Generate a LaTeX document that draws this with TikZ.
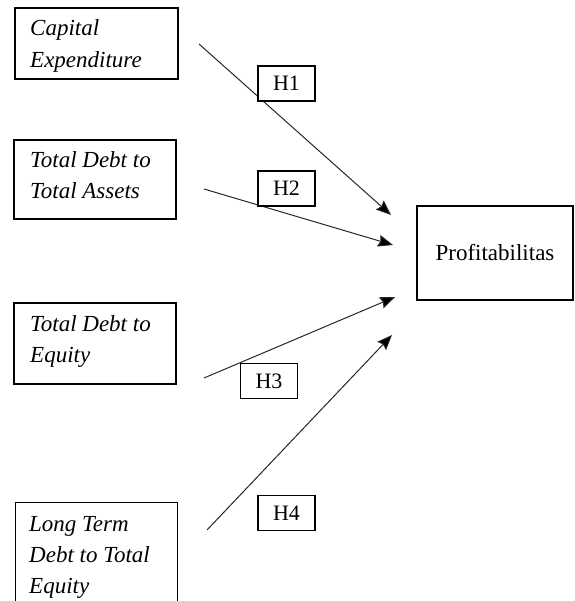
\documentclass[tikz,border=0pt]{standalone}
\usepackage{fontspec}
\setmainfont{Liberation Serif}
\usetikzlibrary{arrows.meta}
\begin{document}
\begin{tikzpicture}[x=1pt,y=-1pt,
  box/.style={draw=black, line width=1.1pt, rectangle, fill=white, inner sep=0pt},
  vartext/.style={anchor=base west, inner sep=0pt, font=\fontsize{23}{31}\selectfont\itshape},
  depbox/.style={box, minimum width=156pt, minimum height=94pt,
    font=\fontsize{23}{27}\selectfont},
  hbox/.style={box, minimum width=57pt, minimum height=35pt,
    font=\fontsize{22}{26}\selectfont},
  conn/.style={draw=black!85, line width=1pt, -{Stealth[length=15pt,width=12pt,inset=2pt,fill=black]}}]
\useasboundingbox (0,0) rectangle (574,601);

% independent-variable boxes
\node[box, minimum width=163pt, minimum height=71pt] (cap) at (96.5,43.5) {};
\node[box, minimum width=162pt, minimum height=79pt] (tdta) at (95,179.5) {};
\node[box, minimum width=162pt, minimum height=81pt] (tde) at (95,343.5) {};
\node[box, anchor=north west, minimum width=162pt, minimum height=112pt] (ltde) at (15,502) {};

\node[vartext, font=\fontsize{23}{32}\selectfont\itshape] (capt) at (30,36)
  {\begin{tabular}[t]{@{}l@{}}Capital\\Expenditure\end{tabular}};
\node[vartext] (tdtat) at (30,168)
  {\begin{tabular}[t]{@{}l@{}}Total Debt to\\Total Assets\end{tabular}};
\node[vartext] (tdet) at (30,331)
  {\begin{tabular}[t]{@{}l@{}}Total Debt to\\Equity\end{tabular}};
\node[vartext] (ltdet) at (29,531)
  {\begin{tabular}[t]{@{}l@{}}Long Term\\Debt to Total\\Equity\end{tabular}};

\node[depbox] (prof) at (495,253) {Profitabilitas};

\coordinate (s1) at (199,44);
\coordinate (e1) at (391,215);
\coordinate (s2) at (204,189);
\coordinate (e2) at (393,245);
\coordinate (s3) at (204,378);
\coordinate (e3) at (395,297);
\coordinate (s4) at (207,530);
\coordinate (e4) at (392,335);

\draw[conn] (s1) -- (e1);
\draw[conn] (s2) -- (e2);
\draw[conn] (s3) -- (e3);
\draw[conn] (s4) -- (e4);

\node[hbox] (h1) at (286.5,83.5) {H1};
\node[hbox] (h2) at (286.5,188.5) {H2};
\node[hbox] (h3) at (269,381) {H3};
\node[hbox] (h4) at (286.5,513) {H4};
\end{tikzpicture}
\end{document}
